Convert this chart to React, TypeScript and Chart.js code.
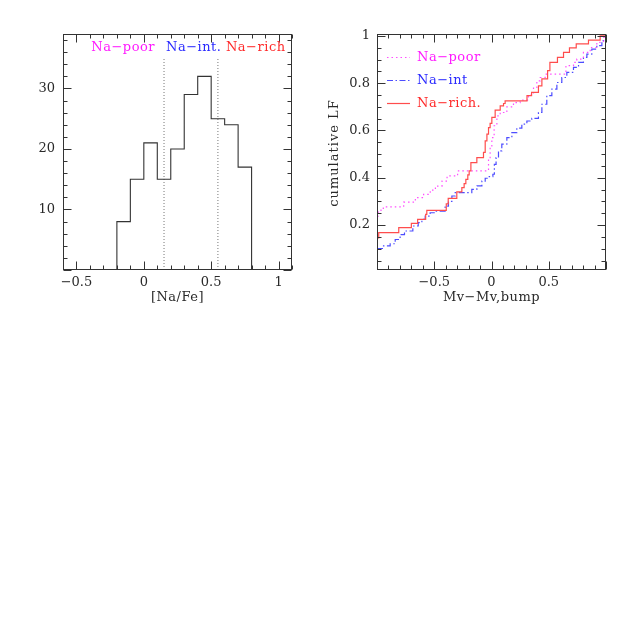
import React, { useEffect, useRef } from 'react';
import { Chart, registerables } from 'chart.js';

Chart.register(...registerables);

// ---------- Left panel: [Na/Fe] histogram ----------
const histBinStarts = [-0.2, -0.1, 0, 0.1, 0.2, 0.3, 0.4, 0.5, 0.6, 0.7];
const histCounts = [8, 15, 21, 15, 20, 29, 32, 25, 24, 17];
const histBinWidth = 0.1;
const naBoundaries = [0.15, 0.55];
const boundaryTop = 35;
const groupLabels = ['Na\u2212poor', 'Na\u2212int.', 'Na\u2212rich'];
const histXTicks = [-0.5, 0, 0.5, 1];
const histYTicks = [10, 20, 30];

// ---------- Right panel: cumulative LF ----------
const poorX = [-1.0, -0.99, -0.965, -0.945, -0.767, -0.665, -0.593, -0.535, -0.49, -0.432, -0.388, -0.296, -0.026, -0.012, 0.003, 0.023, 0.047, 0.076, 0.134, 0.192, 0.25, 0.323, 0.367, 0.396, 0.425, 0.469, 0.65, 0.716, 0.745, 0.803, 0.862, 0.92, 0.978, 1.0];
const poorY = [0.238, 0.255, 0.268, 0.277, 0.297, 0.316, 0.33, 0.348, 0.365, 0.386, 0.408, 0.429, 0.485, 0.528, 0.57, 0.62, 0.662, 0.676, 0.7, 0.718, 0.728, 0.75, 0.782, 0.81, 0.824, 0.838, 0.874, 0.888, 0.902, 0.93, 0.951, 0.973, 0.994, 1.0];

const intX = [-1.0, -0.943, -0.885, -0.841, -0.798, -0.76, -0.687, -0.64, -0.608, -0.579, -0.536, -0.492, -0.405, -0.376, -0.346, -0.317, -0.172, -0.128, -0.084, -0.055, -0.026, 0.012, 0.025, 0.04, 0.061, 0.09, 0.134, 0.178, 0.221, 0.265, 0.309, 0.352, 0.41, 0.44, 0.483, 0.527, 0.571, 0.614, 0.658, 0.716, 0.76, 0.803, 0.833, 0.876, 0.92, 0.964, 1.0];
const intY = [0.101, 0.112, 0.121, 0.139, 0.16, 0.175, 0.196, 0.21, 0.224, 0.238, 0.252, 0.259, 0.28, 0.3, 0.323, 0.337, 0.351, 0.366, 0.386, 0.398, 0.405, 0.415, 0.457, 0.485, 0.514, 0.542, 0.57, 0.591, 0.61, 0.627, 0.64, 0.651, 0.676, 0.711, 0.747, 0.775, 0.803, 0.824, 0.846, 0.867, 0.888, 0.909, 0.923, 0.944, 0.959, 0.98, 1.0];

const richX = [-1.0, -0.985, -0.81, -0.7, -0.645, -0.575, -0.565, -0.395, -0.378, -0.303, -0.259, -0.239, -0.224, -0.207, -0.195, -0.18, -0.128, -0.07, -0.055, -0.04, -0.026, -0.012, 0.003, 0.032, 0.076, 0.105, 0.119, 0.31, 0.35, 0.41, 0.44, 0.49, 0.51, 0.576, 0.629, 0.681, 0.74, 0.847, 0.949, 1.0];
const richY = [0.146, 0.168, 0.189, 0.207, 0.224, 0.245, 0.262, 0.29, 0.313, 0.34, 0.358, 0.375, 0.393, 0.412, 0.429, 0.464, 0.485, 0.507, 0.556, 0.585, 0.612, 0.63, 0.655, 0.686, 0.704, 0.714, 0.725, 0.747, 0.761, 0.789, 0.818, 0.853, 0.888, 0.909, 0.93, 0.949, 0.966, 0.982, 1.0, 1.0];

const cdfNames = ['Na\u2212poor', 'Na\u2212int', 'Na\u2212rich.'];
const cdfXTicks = [-0.5, 0, 0.5];
const cdfYTicks = [0.2, 0.4, 0.6, 0.8, 1];

// ---------- styles ----------
const FONT_FAMILY = '"DejaVu Serif", serif';
const TEXT = '#2a2a2a';
const FRAME = '#333';
const C_POOR = '#ff4dff';
const C_INT = '#4d4dff';
const C_RICH = '#ff4d4d';
const T_POOR = '#ff1aff';
const T_INT = '#2a2aff';
const T_RICH = '#ff2a2a';

const fmt = (v: number) => String(Math.round(v * 1000) / 1000).replace('-', '\u2212');

function axis(min: number, max: number, ticks: number[], isX: boolean, size: number, padding: number) {
  return {
    type: 'linear' as const,
    min,
    max,
    grid: { display: false, drawTicks: false },
    border: { display: false },
    ticks: {
      padding,
      autoSkip: false,
      maxRotation: 0,
      minRotation: 0,
      color: TEXT,
      font: { family: FONT_FAMILY, size: 13 },
      callback: (v: any) => fmt(Number(v)),
    },
    afterBuildTicks: (s: any) => {
      s.ticks = ticks.map((v) => ({ value: v }));
    },
    afterFit: (s: any) => {
      if (isX) s.height = size;
      else s.width = size;
    },
  };
}

const framePlugin = {
  id: 'frameTicks',
  afterDraw(chart: any, _args: any, opts: any) {
    const { ctx, chartArea: a, scales } = chart;
    const L = Math.round(a.left) + 0.5;
    const R = Math.round(a.right) - 0.5;
    const T = Math.round(a.top) + 0.5;
    const B = Math.round(a.bottom) - 0.5;
    ctx.save();
    ctx.strokeStyle = FRAME;
    ctx.lineWidth = 1;
    ctx.setLineDash([]);
    ctx.strokeRect(L, T, R - L, B - T);
    const drawAxis = (scale: any, minor: number, major: number, horizontal: boolean) => {
      const start = Math.ceil(scale.min / minor - 1e-6);
      const end = Math.floor(scale.max / minor + 1e-6);
      for (let i = start; i <= end; i++) {
        const v = i * minor;
        const r = v / major;
        const isMajor = Math.abs(r - Math.round(r)) < 1e-6;
        const len = isMajor ? 8 : 4;
        const p = Math.round(scale.getPixelForValue(v)) + 0.5;
        ctx.beginPath();
        if (horizontal) {
          ctx.moveTo(p, B);
          ctx.lineTo(p, B - len);
          ctx.moveTo(p, T);
          ctx.lineTo(p, T + len);
        } else {
          ctx.moveTo(L, p);
          ctx.lineTo(L + len, p);
          ctx.moveTo(R, p);
          ctx.lineTo(R - len, p);
        }
        ctx.stroke();
      }
    };
    drawAxis(scales.x, opts.xMinor, opts.xMajor, true);
    drawAxis(scales.y, opts.yMinor, opts.yMajor, false);

    // axis titles
    ctx.fillStyle = TEXT;
    ctx.font = `13px ${FONT_FAMILY}`;
    ctx.textAlign = 'center';
    ctx.textBaseline = 'middle';
    if (opts.xTitle) {
      (ctx as any).letterSpacing = '0.5px';
      ctx.fillText(opts.xTitle, (a.left + a.right) / 2, opts.xTitleY);
    }
    if (opts.yTitle) {
      (ctx as any).letterSpacing = '1px';
      ctx.save();
      ctx.translate(opts.yTitleX, (a.top + a.bottom) / 2 + 1);
      ctx.rotate(-Math.PI / 2);
      ctx.fillText(opts.yTitle, 0, 0);
      ctx.restore();
    }
    (ctx as any).letterSpacing = '0.5px';

    // text labels inside the left panel (positioned in data units)
    if (opts.groupLabels) {
      ctx.textAlign = 'left';
      opts.groupLabels.forEach((g: any) => {
        ctx.fillStyle = g.color;
        ctx.fillText(g.text, scales.x.getPixelForValue(g.x), scales.y.getPixelForValue(g.y));
      });
    }

    // legend inside right panel
    if (opts.legend) {
      chart.data.datasets.forEach((ds: any, i: number) => {
        const y = Math.round(a.top + 22.5 + i * 23) + 0.5;
        ctx.strokeStyle = ds.borderColor;
        ctx.lineWidth = 1.2;
        ctx.setLineDash(ds.borderDash || []);
        ctx.beginPath();
        ctx.moveTo(a.left + 10, y);
        ctx.lineTo(a.left + 33, y);
        ctx.stroke();
        ctx.setLineDash([]);
        ctx.fillStyle = opts.legend[i];
        ctx.textAlign = 'left';
        ctx.fillText(ds.label, a.left + 40, y);
      });
    }
    ctx.restore();
  },
};

function histPoints() {
  const pts: { x: number; y: number }[] = [{ x: histBinStarts[0], y: 0 }];
  histBinStarts.forEach((x, i) => pts.push({ x, y: histCounts[i] }));
  pts.push({ x: histBinStarts[histBinStarts.length - 1] + histBinWidth, y: 0 });
  return pts;
}

const toPts = (xs: number[], ys: number[]) => xs.map((x, i) => ({ x, y: ys[i] }));

export default function App() {
  const leftRef = useRef<HTMLCanvasElement>(null);
  const rightRef = useRef<HTMLCanvasElement>(null);

  useEffect(() => {
    const left = new Chart(leftRef.current as HTMLCanvasElement, {
      type: 'line',
      data: {
        datasets: [
          {
            label: 'N',
            data: histPoints(),
            borderColor: '#333',
            borderWidth: 1.1,
            stepped: 'before',
            pointRadius: 0,
            fill: false,
          },
          ...naBoundaries.map((b) => ({
            label: 'b',
            data: [
              { x: b, y: 0 },
              { x: b, y: boundaryTop },
            ],
            borderColor: '#777',
            borderWidth: 1,
            borderDash: [1, 2],
            pointRadius: 0,
            fill: false,
          })),
        ],
      } as any,
      options: {
        responsive: false,
        devicePixelRatio: 1,
        animation: false,
        layout: { padding: { top: 34, right: 27, left: 0, bottom: 0 } },
        plugins: {
          legend: { display: false },
          tooltip: { enabled: false },
          frameTicks: {
            xMinor: 0.1,
            xMajor: 0.5,
            yMinor: 2,
            yMajor: 10,
            xTitle: '[Na/Fe]',
            xTitleY: 298,
            groupLabels: [
              { text: groupLabels[0], x: -0.39, y: 36.7, color: T_POOR },
              { text: groupLabels[1], x: 0.165, y: 36.7, color: T_INT },
              { text: groupLabels[2], x: 0.61, y: 36.7, color: T_RICH },
            ],
          },
        } as any,
        scales: {
          x: axis(-0.6, 1.1, histXTicks, true, 60, 5),
          y: axis(0, 39, histYTicks, false, 63, 8),
        } as any,
      },
      plugins: [framePlugin],
    });

    const right = new Chart(rightRef.current as HTMLCanvasElement, {
      type: 'line',
      data: {
        datasets: [
          {
            label: cdfNames[0],
            data: toPts(poorX, poorY),
            borderColor: C_POOR,
            borderWidth: 1.2,
            borderDash: [1.5, 3],
            stepped: 'before',
            pointRadius: 0,
            fill: false,
            order: 1,
          },
          {
            label: cdfNames[1],
            data: toPts(intX, intY),
            borderColor: C_INT,
            borderWidth: 1.2,
            borderDash: [6, 2.5, 1.5, 2.5],
            stepped: 'before',
            pointRadius: 0,
            fill: false,
            order: 2,
          },
          {
            label: cdfNames[2],
            data: toPts(richX, richY),
            borderColor: C_RICH,
            borderWidth: 1.2,
            stepped: 'before',
            pointRadius: 0,
            fill: false,
            order: 0,
          },
        ],
      } as any,
      options: {
        responsive: false,
        devicePixelRatio: 1,
        animation: false,
        layout: { padding: { top: 34, right: 32, left: 0, bottom: 0 } },
        plugins: {
          legend: { display: false },
          tooltip: { enabled: false },
          frameTicks: {
            xMinor: 0.1,
            xMajor: 0.5,
            yMinor: 0.05,
            yMajor: 0.2,
            xTitle: 'Mv\u2212Mv,bump',
            xTitleY: 298,
            yTitle: 'cumulative LF',
            yTitleX: 16,
            legend: [T_POOR, T_INT, T_RICH],
          },
        } as any,
        scales: {
          x: axis(-1, 1, cdfXTicks, true, 60, 5),
          y: axis(0.01, 1.008, cdfYTicks, false, 58, 7),
        } as any,
      },
      plugins: [framePlugin],
    });

    return () => {
      left.destroy();
      right.destroy();
    };
  }, []);

  return (
    <div style={{ position: 'absolute', left: 0, top: 0, width: 638, height: 638, background: '#fff' }}>
      <canvas
        ref={leftRef}
        width={319}
        height={330}
        style={{ position: 'absolute', left: 0, top: 0, width: 319, height: 330 }}
      />
      <canvas
        ref={rightRef}
        width={319}
        height={330}
        style={{ position: 'absolute', left: 319, top: 0, width: 319, height: 330 }}
      />
    </div>
  );
}
